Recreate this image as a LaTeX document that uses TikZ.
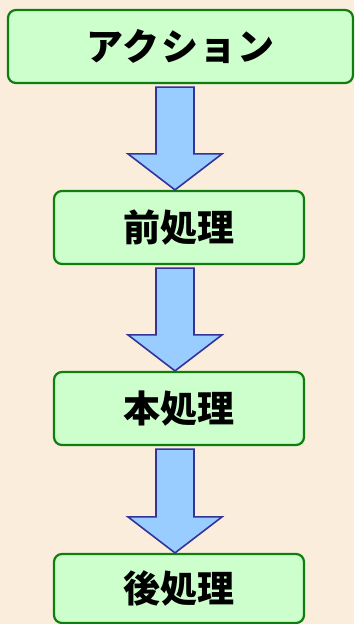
\documentclass[tikz,border=0pt]{standalone}
\usepackage{fontspec}
\newfontfamily\cjk{Noto Sans CJK JP}[BoldFont={Noto Sans CJK JP Black}]
\usetikzlibrary{calc}
\definecolor{bg}{HTML}{FAEDDB}
\definecolor{boxfill}{HTML}{CCFFCC}
\definecolor{boxline}{HTML}{0E7E0E}
\definecolor{arrfill}{HTML}{99CCFF}
\definecolor{arrline}{HTML}{333399}
\tikzset{
  stepbox/.style={draw=boxline, fill=boxfill, line width=2.2pt, rounded corners=8pt,
    minimum height=73pt, inner sep=0pt, font=\cjk\bfseries\fontsize{37}{40}\selectfont},
  arr/.style={draw=arrline, fill=arrfill, line width=1.6pt, line join=miter}
}
\newcommand\flowarrow[2]{%
  \draw[arr] let \p1=(#1.south), \p2=(#2.north) in
    (156,\y1-3) -- (194,\y1-3) -- (194,\y2+36) -- (222,\y2+36) -- (175,\y2)
    -- (128,\y2+36) -- (156,\y2+36) -- cycle;}
\begin{document}
\begin{tikzpicture}[x=1pt,y=1pt]
\fill[bg] (0,0) rectangle (354,-624);
\useasboundingbox (0,0) rectangle (354,-624);
\node[stepbox, minimum width=345pt] (a) at (180.5,-46.5) {\addfontfeature{LetterSpace=3}アクション};
\node[stepbox, minimum width=250pt] (b) at (179,-227.5) {前処理};
\node[stepbox, minimum width=250pt] (c) at (179,-408.5) {本処理};
\node[stepbox, minimum width=250pt, minimum height=69pt] (d) at (179,-588.5) {後処理};
\flowarrow{a}{b}
\flowarrow{b}{c}
\flowarrow{c}{d}
\end{tikzpicture}
\end{document}
